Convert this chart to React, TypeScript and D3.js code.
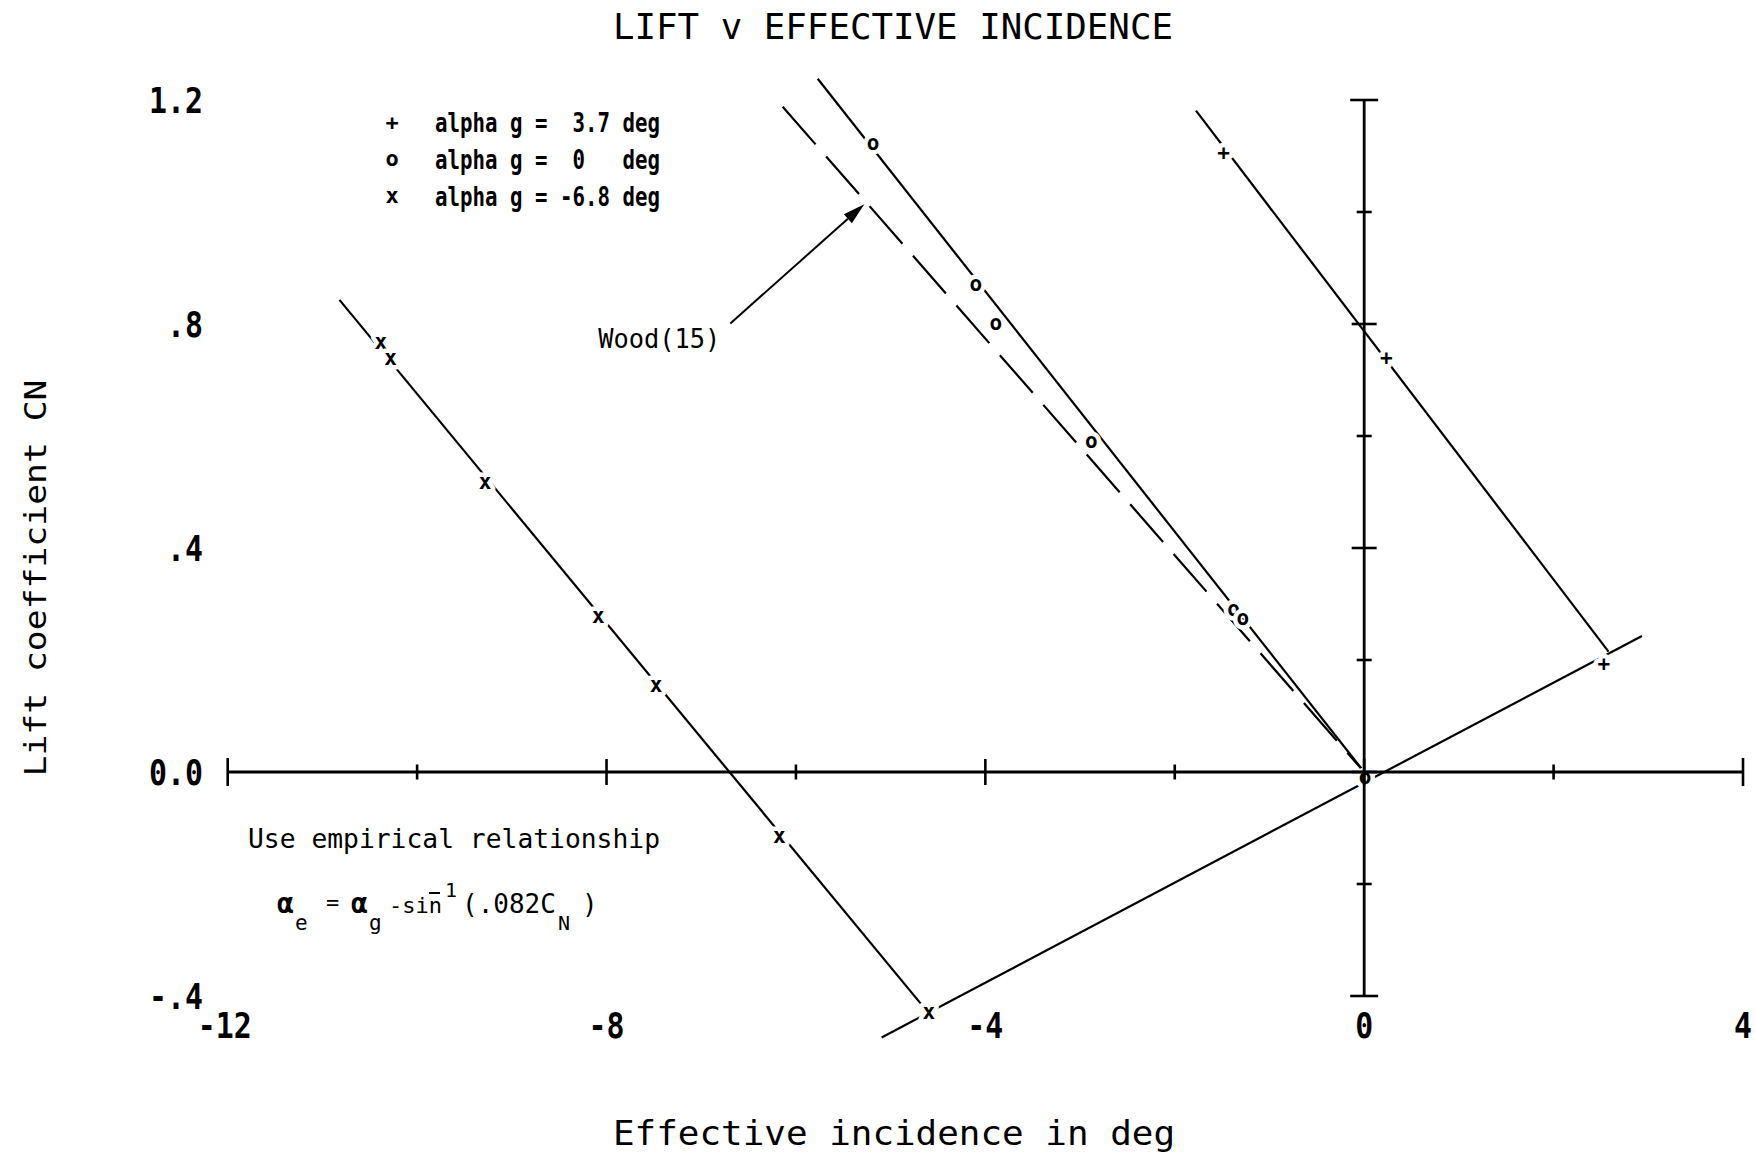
import React from "react";
import * as d3 from "d3";

// Axis ranges and tick labels
const X_DOMAIN: [number, number] = [-12, 4];
const Y_DOMAIN: [number, number] = [-0.4, 1.2];
const X_TICKS = [-12, -10, -8, -6, -4, -2, 0, 2, 4];
const X_LABELS = [
  { v: -12, t: "-12" },
  { v: -8, t: "-8" },
  { v: -4, t: "-4" },
  { v: 0, t: "0" },
  { v: 4, t: "4" },
];
const Y_TICKS = [-0.4, -0.2, 0, 0.2, 0.4, 0.6, 0.8, 1.0, 1.2];
const Y_LABELS = [
  { c: 1.2, t: "1.2" },
  { c: 0.8, t: ".8" },
  { c: 0.4, t: ".4" },
  { c: 0.0, t: "0.0" },
  { c: -0.4, t: "-.4" },
];

// Measured points: [effective incidence (deg), CN]
const plusPoints: [number, number][] = [
  [-1.485, 1.105],
  [0.234, 0.74],
  [2.53, 0.193],
];
const circlePoints: [number, number][] = [
  [-5.186, 1.121],
  [-4.1, 0.87],
  [-3.89, 0.8],
  [-2.88, 0.589],
  [-1.38, 0.289],
  [-1.28, 0.274],
  [0.01, -0.01],
];
const crossPoints: [number, number][] = [
  [-10.384, 0.766],
  [-10.279, 0.737],
  [-9.283, 0.516],
  [-8.087, 0.276],
  [-7.478, 0.154],
  [-6.175, -0.116],
  [-4.597, -0.431],
];

// Fitted lines through each set, the Wood(15) reference and the boundary line
const plusLine: [number, number][] = [
  [-1.776, 1.181],
  [2.58, 0.215],
];
const circleLine: [number, number][] = [
  [-5.77, 1.238],
  [0, 0],
];
const crossLine: [number, number][] = [
  [-10.82, 0.843],
  [-4.597, -0.431],
];
const woodLine: [number, number][] = [
  [-6.14, 1.188],
  [0, 0],
];
const boundaryLine: [number, number][] = [
  [-5.095, -0.474],
  [2.933, 0.243],
];
// Arrow from the Wood(15) label to its dashed line
const woodArrow: [number, number][] = [
  [-6.693, 0.801],
  [-5.278, 1.014],
];
const woodLabelAt: [number, number] = [-6.8, 0.76];

const legendRows = [
  { sym: "+", text: "alpha g =  3.7 deg" },
  { sym: "o", text: "alpha g =  0   deg" },
  { sym: "x", text: "alpha g = -6.8 deg" },
];

const MONO = "'DejaVu Sans Mono', 'Liberation Mono', monospace";

const W = 1755;
const H = 1155;

const x = d3.scaleLinear().domain(X_DOMAIN).range([227.7, 1743]);
const y = d3.scaleLinear().domain(Y_DOMAIN).range([996, 100]);

const line = d3
  .line<[number, number]>()
  .x((d) => x(d[0]))
  .y((d) => y(d[1]));

// baseline offsets so each glyph sits centred on its point
const symOffset: Record<string, number> = { "+": 7, o: 6, x: 6 };

function Marker({ sym, cx, cy }: { sym: string; cx: number; cy: number }) {
  return (
    <text
      x={cx}
      y={cy + symOffset[sym]}
      textAnchor="middle"
      fontFamily={MONO}
      fontWeight="bold"
      fontSize={21}
      fill="#000"
      stroke="#fff"
      strokeWidth={9}
      strokeLinejoin="round"
      style={{ paintOrder: "stroke" }}
    >
      {sym}
    </text>
  );
}

export default function App() {
  const lineStyle = { fill: "none", stroke: "#000", strokeWidth: 2.2 };

  // arrow geometry
  const [a0, a1] = woodArrow.map((d) => [x(d[0]), y(d[1])]);
  const ang = Math.atan2(a1[1] - a0[1], a1[0] - a0[0]);
  const headLen = 22;
  const headHalf = 6;
  const bx = a1[0] - headLen * Math.cos(ang);
  const by = a1[1] - headLen * Math.sin(ang);
  const head = [
    [a1[0], a1[1]],
    [bx + headHalf * Math.sin(ang), by - headHalf * Math.cos(ang)],
    [bx - headHalf * Math.sin(ang), by + headHalf * Math.cos(ang)],
  ]
    .map((p) => p.join(","))
    .join(" ");

  const x0 = x(0);
  const y0 = y(0);

  return (
    <svg
      width={W}
      height={H}
      viewBox={`0 0 ${W} ${H}`}
      style={{ position: "absolute", left: 0, top: 0, background: "#fff" }}
    >
      <rect width={W} height={H} fill="#fff" />

      {/* title */}
      <text
        x={893}
        y={39}
        textAnchor="middle"
        fontFamily={MONO}
        fontSize={36}
        textLength={560}
        lengthAdjust="spacingAndGlyphs"
      >
        LIFT v EFFECTIVE INCIDENCE
      </text>

      {/* data lines */}
      <path d={line(crossLine) || ""} {...lineStyle} />
      <path d={line(circleLine) || ""} {...lineStyle} />
      <path d={line(plusLine) || ""} {...lineStyle} />
      <path d={line(boundaryLine) || ""} {...lineStyle} />
      <path d={line(woodLine) || ""} {...lineStyle} strokeDasharray="50 16" />

      {/* markers */}
      {crossPoints.map((d, i) => (
        <Marker key={"x" + i} sym="x" cx={x(d[0])} cy={y(d[1])} />
      ))}
      {circlePoints.map((d, i) => (
        <Marker key={"o" + i} sym="o" cx={x(d[0])} cy={y(d[1])} />
      ))}
      {plusPoints.map((d, i) => (
        <Marker key={"p" + i} sym="+" cx={x(d[0])} cy={y(d[1])} />
      ))}

      {/* x axis along CN = 0 */}
      <line x1={x(X_DOMAIN[0])} x2={x(X_DOMAIN[1])} y1={y0} y2={y0} stroke="#000" strokeWidth={2.8} />
      {X_TICKS.map((v) => {
        const end = v === X_DOMAIN[0] || v === X_DOMAIN[1];
        const h = end ? 14 : v % 4 === 0 ? 13 : 7.5;
        return (
          <line key={"xt" + v} x1={x(v)} x2={x(v)} y1={y0 - h} y2={y0 + h} stroke="#000" strokeWidth={2.6} />
        );
      })}

      {/* y axis along zero incidence */}
      <line x1={x0} x2={x0} y1={y(Y_DOMAIN[0])} y2={y(Y_DOMAIN[1])} stroke="#000" strokeWidth={2.8} />
      {Y_TICKS.map((c) => {
        const k = Math.round(c / 0.2);
        const end = c === Y_DOMAIN[0] || c === Y_DOMAIN[1];
        const w = end ? 14 : k % 2 === 0 ? 12.5 : 7.5;
        return (
          <line key={"yt" + c} x1={x0 - w} x2={x0 + w} y1={y(c)} y2={y(c)} stroke="#000" strokeWidth={2.6} />
        );
      })}

      {/* tick labels */}
      {Y_LABELS.map((l) => (
        <text
          key={"yl" + l.t}
          x={203}
          y={y(l.c) + 13}
          textAnchor="end"
          fontFamily={MONO}
          fontWeight="bold"
          fontSize={36}
          textLength={l.t.length * 18}
          lengthAdjust="spacingAndGlyphs"
        >
          {l.t}
        </text>
      ))}
      {X_LABELS.map((l) => (
        <text
          key={"xl" + l.t}
          x={x(l.v) - (l.v === -12 ? 3 : 0)}
          y={1038}
          textAnchor="middle"
          fontFamily={MONO}
          fontWeight="bold"
          fontSize={35}
          textLength={l.t.length * 18}
          lengthAdjust="spacingAndGlyphs"
        >
          {l.t}
        </text>
      ))}

      {/* axis titles */}
      <text
        x={894}
        y={1145}
        textAnchor="middle"
        fontFamily={MONO}
        fontSize={33}
        textLength={562}
        lengthAdjust="spacingAndGlyphs"
      >
        Effective incidence in deg
      </text>
      <text
        transform="translate(46,578) rotate(-90)"
        textAnchor="middle"
        fontFamily={MONO}
        fontSize={31}
        textLength={397}
        lengthAdjust="spacingAndGlyphs"
      >
        Lift coefficient CN
      </text>

      {/* legend */}
      {legendRows.map((r, i) => {
        const base = 132 + i * 37;
        return (
          <g key={"lg" + i}>
            <text
              x={392}
              y={base - 9 + symOffset[r.sym]}
              textAnchor="middle"
              fontFamily={MONO}
              fontWeight="bold"
              fontSize={22}
            >
              {r.sym}
            </text>
            <text
              x={435}
              y={base}
              fontFamily={MONO}
              fontWeight="bold"
              fontSize={27}
              textLength={225}
              lengthAdjust="spacingAndGlyphs"
              style={{ whiteSpace: "pre" }}
            >
              {r.text}
            </text>
          </g>
        );
      })}

      {/* Wood(15) annotation */}
      <text
        x={x(woodLabelAt[0])}
        y={y(woodLabelAt[1]) + 2}
        textAnchor="end"
        fontFamily={MONO}
        fontSize={26}
        textLength={122}
        lengthAdjust="spacingAndGlyphs"
      >
        Wood(15)
      </text>
      <line x1={a0[0]} y1={a0[1]} x2={bx} y2={by} stroke="#000" strokeWidth={2} />
      <polygon points={head} fill="#000" />

      {/* empirical relationship note */}
      <text
        x={248}
        y={848}
        fontFamily={MONO}
        fontSize={27}
        textLength={412}
        lengthAdjust="spacingAndGlyphs"
      >
        Use empirical relationship
      </text>
      {/* alpha_e = alpha_g - sin^-1(.082 C_N), set as one text run */}
      <line x1={429} x2={440} y1={893} y2={893} stroke="#000" strokeWidth={2} />
      <text fontFamily={MONO} fill="#000" fontSize={24}>
        <tspan x={277} y={913} fontSize={28} fontWeight="bold">α</tspan>
        <tspan x={295} y={930} fontSize={21}>e</tspan>
        <tspan x={326} y={910} fontSize={22}>=</tspan>
        <tspan x={351} y={913} fontSize={28} fontWeight="bold">α</tspan>
        <tspan x={369} y={930} fontSize={21}>g</tspan>
        <tspan x={389} y={913} fontSize={22}>-sin</tspan>
        <tspan x={445} y={897} fontSize={20}>1</tspan>
        <tspan x={462} y={913} fontSize={26}>(.082C</tspan>
        <tspan x={558} y={930} fontSize={20}>N</tspan>
        <tspan x={582} y={913} fontSize={26}>)</tspan>
      </text>
    </svg>
  );
}
